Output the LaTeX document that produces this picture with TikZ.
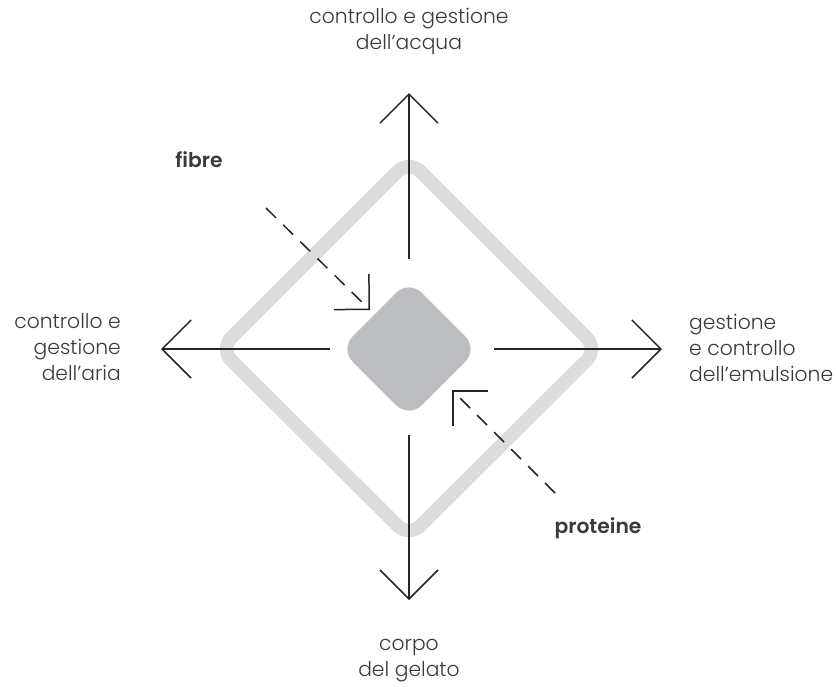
\documentclass[tikz,border=0pt]{standalone}
\usepackage{fontspec}
\setmainfont{Poppins Light}[BoldFont={Poppins SemiBold}]
\usetikzlibrary{arrows.meta}
\definecolor{ink}{HTML}{232527}
\definecolor{txt}{HTML}{3A3A3A}
\definecolor{ring}{HTML}{DCDCDC}
\definecolor{core}{HTML}{BCBDC1}
\tikzset{
  axis/.style={draw=ink, line width=1.5pt, -{Straight Barb[length=29pt,width=58pt,line width=1.5pt]}},
  feed/.style={draw=ink, line width=1.5pt, dash pattern=on 14pt off 10pt,
    -{Straight Barb[length=25pt,width=50pt,line width=1.5pt]}},
  lbl/.style={text=txt, font=\fontsize{20.3}{26}\selectfont, inner sep=0pt},
  tag/.style={text=txt, font=\fontsize{20.3}{26}\selectfont\bfseries, inner sep=0pt},
}
\begin{document}
\begin{tikzpicture}[x=1pt,y=-1pt]
\useasboundingbox (0,0) rectangle (836,686);
\coordinate (c) at (409,349);
% outer ring
\draw[ring, line width=13.5pt, rounded corners=16pt]
  (409,160) -- (598,349) -- (409,537) -- (220,349) -- cycle;
% central block
\fill[core, rounded corners=18pt]
  (409,280) -- (478,349) -- (409,418) -- (340,349) -- cycle;
% axis arrows
\coordinate (n0) at (409,259); \coordinate (n1) at (409,93);
\coordinate (s0) at (409,435); \coordinate (s1) at (409,600);
\coordinate (w0) at (330,349); \coordinate (w1) at (161,349);
\coordinate (e0) at (494,349); \coordinate (e1) at (662,349);
\draw[axis] (n0) -- (n1);
\draw[axis] (s0) -- (s1);
\draw[axis] (w0) -- (w1);
\draw[axis] (e0) -- (e1);
% dashed inputs
\coordinate (f0) at (266,208); \coordinate (f1) at (370,310);
\coordinate (p0) at (555,493); \coordinate (p1) at (452,390);
\draw[feed] (f0) -- (f1);
\draw[feed] (p0) -- (p1);
% labels
\node[lbl, align=center] (acqua) at (409,31) {controllo e gestione\\dell’acqua};
\node[lbl, align=right, anchor=east] (aria) at (121,347) {controllo e\\gestione\\dell’aria};
\node[lbl, align=left, anchor=west] (emul) at (689,348) {gestione\\e controllo\\dell’emulsione};
\node[lbl, align=center] (corpo) at (409,661) {corpo\\del gelato};
\node[tag] (fibre) at (199,160) {fibre};
\node[tag] (prot) at (598,528) {proteine};
\end{tikzpicture}
\end{document}
